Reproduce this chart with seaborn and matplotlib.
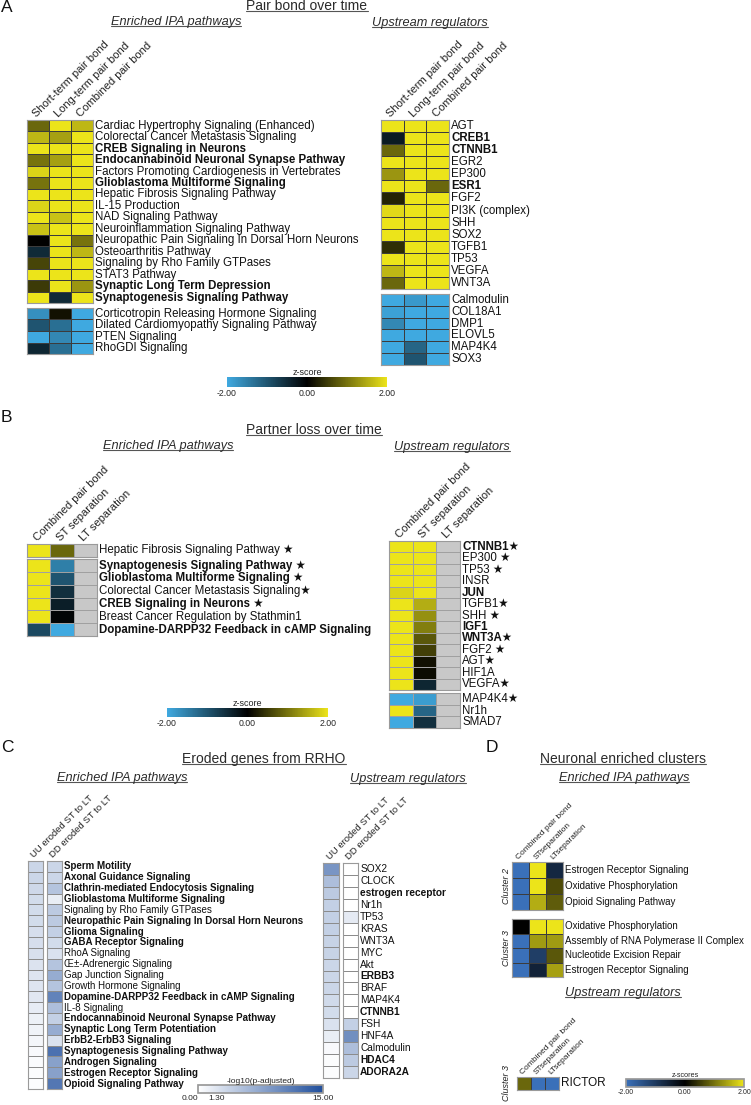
import numpy as np
import matplotlib
matplotlib.use('Agg')
import matplotlib.pyplot as plt
import matplotlib.cm as cm
import seaborn as sns
from matplotlib.colors import LinearSegmentedColormap, ListedColormap, Normalize
from matplotlib.lines import Line2D

nan = np.nan

# ---------------- Panel A: pair bond over time ----------------
pb_cols = ['Short-term pair bond', 'Long-term pair bond', 'Combined pair bond']

a_path_up = ['Cardiac Hypertrophy Signaling (Enhanced)', 'Colorectal Cancer Metastasis Signaling',
             'CREB Signaling in Neurons', 'Endocannabinoid Neuronal Synapse Pathway',
             'Factors Promoting Cardiogenesis in Vertebrates', 'Glioblastoma Multiforme Signaling',
             'Hepatic Fibrosis Signaling Pathway', 'IL-15 Production', 'NAD Signaling Pathway',
             'Neuroinflammation Signaling Pathway', 'Neuropathic Pain Signaling In Dorsal Horn Neurons',
             'Osteoarthritis Pathway', 'Signaling by Rho Family GTPases', 'STAT3 Pathway',
             'Synaptic Long Term Depression', 'Synaptogenesis Signaling Pathway']
a_path_up_z = [[0.9, 2, 1.6], [1.6, 1.4, 2], [2, 2, 2], [1.0, 1.4, 2], [1.85, 2, 2], [1.0, 2, 2],
               [2, 2, 2], [1.85, 2, 2], [2, 1.7, 2], [1.7, 2, 2], [0.0, 2, 1.0], [-0.5, 2, 1.6],
               [0.6, 2, 2], [2, 2, 2], [0.5, 2, 1.3], [2, -0.5, 2]]
a_path_down = ['Corticotropin Releasing Hormone Signaling', 'Dilated Cardiomyopathy Signaling Pathway',
               'PTEN Signaling', 'RhoGDI Signaling']
a_path_down_z = [[-1.7, 0.15, -2], [-1.0, -1.3, -2], [-2, -1.6, -2], [-0.45, -1.3, -2]]
a_path_bold = ['CREB Signaling in Neurons', 'Endocannabinoid Neuronal Synapse Pathway',
               'Glioblastoma Multiforme Signaling', 'Synaptic Long Term Depression',
               'Synaptogenesis Signaling Pathway']

a_up = ['AGT', 'CREB1', 'CTNNB1', 'EGR2', 'EP300', 'ESR1', 'FGF2', 'PI3K (complex)', 'SHH', 'SOX2',
        'TGFB1', 'TP53', 'VEGFA', 'WNT3A']
a_up_z = [[2, 2, 2], [-0.3, 2, 2], [0.9, 2, 2], [2, 2, 2], [1.3, 2, 2], [2, 2, 0.9], [0.3, 2, 2],
          [1.9, 2, 2], [2, 2, 2], [2, 2, 2], [0.4, 2, 2], [2, 2, 2], [1.6, 2, 2], [0.9, 2, 2]]
a_down = ['Calmodulin', 'COL18A1', 'DMP1', 'ELOVL5', 'MAP4K4', 'SOX3']
a_down_z = [[-2, -1.8, -2], [-1.9, -2, -2], [-1.6, -2, -2], [-2, -2, -2], [-2, -1.2, -2], [-2, -1.0, -2]]
a_up_bold = ['CREB1', 'CTNNB1', 'ESR1']

# ---------------- Panel B: partner loss over time ----------------
pl_cols = ['Combined pair bond', 'ST separation', 'LT separation']

b_path_top = ['Hepatic Fibrosis Signaling Pathway ★']
b_path_top_z = [[2, 0.9, nan]]
b_path = ['Synaptogenesis Signaling Pathway ★', 'Glioblastoma Multiforme Signaling ★',
          'Colorectal Cancer Metastasis Signaling★', 'CREB Signaling in Neurons ★',
          'Breast Cancer Regulation by Stathmin1', 'Dopamine-DARPP32 Feedback in cAMP Signaling']
b_path_z = [[2, -1.5, nan], [2, -1.0, nan], [2, -0.55, nan], [2, -0.35, nan], [2, -0.05, nan],
            [-0.85, -2, nan]]
b_path_bold = ['Synaptogenesis Signaling Pathway ★', 'Glioblastoma Multiforme Signaling ★',
               'CREB Signaling in Neurons ★', 'Dopamine-DARPP32 Feedback in cAMP Signaling']

b_up = ['CTNNB1★', 'EP300 ★', 'TP53 ★', 'INSR', 'JUN', 'TGFB1★', 'SHH ★', 'IGF1', 'WNT3A★',
        'FGF2 ★', 'AGT★', 'HIF1A', 'VEGFA★']
b_up_z = [[2, 2, nan], [2, 2, nan], [2, 2, nan], [2, 2, nan], [1.85, 2, nan], [2, 1.5, nan],
          [2, 1.25, nan], [2, 1.1, nan], [2, 0.75, nan], [2, 0.55, nan], [2, 0.15, nan],
          [2, 0.1, nan], [2, -0.45, nan]]
b_down = ['MAP4K4★', 'Nr1h', 'SMAD7']
b_down_z = [[-2, -1.85, nan], [2, -1.2, nan], [-2, -0.55, nan]]
b_up_bold = ['CTNNB1★', 'JUN', 'IGF1', 'WNT3A★']

# ---------------- Panel C: eroded genes from RRHO ----------------
c_cols = ['UU eroded ST to LT', 'DD eroded ST to LT']
c_path = ['Sperm Motility', 'Axonal Guidance Signaling', 'Clathrin-mediated Endocytosis Signaling',
          'Glioblastoma Multiforme Signaling', 'Signaling by Rho Family GTPases',
          'Neuropathic Pain Signaling In Dorsal Horn Neurons', 'Glioma Signaling',
          'GABA Receptor Signaling', 'RhoA Signaling', 'Œ±-Adrenergic Signaling',
          'Gap Junction Signaling', 'Growth Hormone Signaling',
          'Dopamine-DARPP32 Feedback in cAMP Signaling', 'IL-8 Signaling',
          'Endocannabinoid Neuronal Synapse Pathway', 'Synaptic Long Term Potentiation',
          'ErbB2-ErbB3 Signaling', 'Synaptogenesis Signaling Pathway', 'Androgen Signaling',
          'Estrogen Receptor Signaling', 'Opioid Signaling Pathway']
c_path_uu = [3.5, 3.5, 3.3, 3.0, 3.0, 3.0, 2.8, 2.8, 2.6, 2.4, 2.2, 2.2, 2.0, 1.6, 1.2, 1.0, 0.8,
             0.5, 0.4, 0.3, 0.2]
c_path_dd = [3.5, 3.5, 5.0, 1.5, 4.5, 4.5, 4.0, 3.0, 2.5, 5.0, 7.0, 5.0, 10.5, 5.5, 4.0, 7.0, 2.5,
             12.0, 8.0, 8.0, 11.5]
c_path_plain = ['Signaling by Rho Family GTPases', 'RhoA Signaling', 'Œ±-Adrenergic Signaling',
                'Gap Junction Signaling', 'Growth Hormone Signaling', 'IL-8 Signaling']

c_up = ['SOX2', 'CLOCK', 'estrogen receptor', 'Nr1h', 'TP53', 'KRAS', 'WNT3A', 'MYC', 'Akt', 'ERBB3',
        'BRAF', 'MAP4K4', 'CTNNB1', 'FSH', 'HNF4A', 'Calmodulin', 'HDAC4', 'ADORA2A']
c_up_uu = [9.0, 5.5, 4.5, 4.0, 4.0, 4.0, 3.8, 3.8, 3.5, 3.5, 3.5, 3.2, 3.0, 2.5, 1.5, 0.5, 0.3, 0.3]
c_up_dd = [0, 0, 0, 0, 1.8, 0, 0, 0, 0, 0, 0, 0, 0, 4.0, 9.5, 5.5, 4.5, 3.5]
c_up_bold = ['estrogen receptor', 'ERBB3', 'CTNNB1', 'HDAC4', 'ADORA2A']

# ---------------- Panel D: neuronal enriched clusters ----------------
d_cols = ['Combined pair bond', 'STseparation', 'LTseparation']
d_c2 = ['Estrogen Receptor Signaling', 'Oxidative Phosphorylation', 'Opioid Signaling Pathway']
d_c2_z = [[-2, 2, -0.7], [-2, 2, 0.65], [-2, 1.5, 0.8]]
d_c3 = ['Oxidative Phosphorylation', 'Assembly of RNA Polymerase II Complex',
        'Nucleotide Excision Repair', 'Estrogen Receptor Signaling']
d_c3_z = [[0, 2, 2], [-2, 1.35, 1.35], [-2, -1.1, 0.75], [-2, -0.6, 1.4]]
d_up = ['RICTOR']
d_up_z = [[0.9, -2, -2]]

# ---------------- styling ----------------
sns.set_theme(style='white')
plt.rcParams['font.family'] = ['Liberation Sans', 'DejaVu Sans']

zcmap = LinearSegmentedColormap.from_list('z', ['#3fa9e0', '#000000', '#ece41a'])
dcmap = LinearSegmentedColormap.from_list('zd', ['#3a70b9', '#000000', '#ece41a'])
pcmap = LinearSegmentedColormap.from_list('p', ['#ffffff', '#1f4e9c'])
grey = ListedColormap(['#c8c8c8'])

W, H = 751, 1105
fig = plt.figure(figsize=(W / 100, H / 100), dpi=100)


def rect(x, y, w, h):
    return [x / W, 1 - (y + h) / H, w / W, h / H]


def heat(x, y, w, h, z, cmap, vmin, vmax, rows=None, cols=None, bold=(), plain=None,
         fs=8.3, cfs=8, lc='#3c3c3c', frame='#9a9a9a'):
    ax = fig.add_axes(rect(x, y, w, h))
    z = np.array(z, dtype=float)
    sns.heatmap(z, ax=ax, cmap=cmap, vmin=vmin, vmax=vmax, cbar=False, linewidths=0.5,
                linecolor=lc, xticklabels=False, yticklabels=False)
    if np.isnan(z).any():
        # grey fill for missing comparisons
        sns.heatmap(np.zeros_like(z), mask=~np.isnan(z), ax=ax, cmap=grey, cbar=False,
                    linewidths=0.5, linecolor='#a0a0a0', xticklabels=False, yticklabels=False)
    if rows is not None:
        ax.set_yticks(np.arange(len(rows)) + 0.5)
        ax.set_yticklabels(rows, fontsize=fs, rotation=0, va='center')
        ax.yaxis.tick_right()
        ax.tick_params(axis='y', length=0, pad=1.5)
        for tk, lab in zip(ax.yaxis.get_major_ticks(), rows):
            isbold = (lab in bold) if plain is None else (lab not in plain)
            for t in (tk.label1, tk.label2):
                t.set_fontweight('bold' if isbold else 'normal')
                t.set_color('#111111')
    else:
        ax.set_yticks([])
    if cols is not None:
        ax.set_xticks(np.arange(len(cols)) + 0.5)
        ax.set_xticklabels(cols, fontsize=cfs, rotation=45, ha='left', va='bottom',
                           rotation_mode='anchor', color='#222222')
        ax.xaxis.tick_top()
        ax.tick_params(axis='x', length=0, pad=1)
    else:
        ax.set_xticks([])
    for s in ax.spines.values():
        s.set_visible(True)
        s.set_color(frame)
        s.set_linewidth(0.8)
    return ax


def cbar(x, y, w, h, cmap, vmin, vmax, ticks, labels, title, fs, tfs, outline=False):
    cax = fig.add_axes(rect(x, y, w, h))
    sm = cm.ScalarMappable(norm=Normalize(vmin, vmax), cmap=cmap)
    cb = fig.colorbar(sm, cax=cax, orientation='horizontal')
    cb.set_ticks(ticks)
    cb.set_ticklabels(labels, fontsize=fs)
    cax.tick_params(length=0, pad=1.5)
    cb.outline.set_visible(outline)
    cb.outline.set_edgecolor('#999999')
    cax.set_title(title, fontsize=tfs, pad=1.5, color='#222222')
    return cax


underlined = []


def header(x, y, s, size, italic=False):
    t = fig.text(x / W, 1 - y / H, s, fontsize=size, style='italic' if italic else 'normal',
                 ha='center', va='center', color='#2a2a2a')
    underlined.append(t)


def letter(x, y, s):
    fig.text(x / W, 1 - y / H, s, fontsize=12.5, ha='left', va='center', color='#111111')


# ---- A ----
letter(1, 8, 'A')
header(307, 6, 'Pair bond over time', 10)
header(176, 22, 'Enriched IPA pathways', 9.2, italic=True)
header(430, 23, 'Upstream regulators', 9.2, italic=True)
heat(27, 120, 66, 183.3, a_path_up_z, zcmap, -2, 2, rows=a_path_up, cols=pb_cols, bold=a_path_bold)
heat(27, 307.7, 66, 46.6, a_path_down_z, zcmap, -2, 2, rows=a_path_down)
heat(381, 120, 68, 169, a_up_z, zcmap, -2, 2, rows=a_up, cols=pb_cols, bold=a_up_bold)
heat(381, 294, 68, 71, a_down_z, zcmap, -2, 2, rows=a_down)
cbar(227, 377, 160, 10, zcmap, -2, 2, [-2, 0, 2], ['-2.00', '0.00', '2.00'], 'z-score', 6.3, 6.5)

# ---- B ----
letter(1, 417, 'B')
header(314, 430, 'Partner loss over time', 10)
header(168, 446, 'Enriched IPA pathways', 9.2, italic=True)
header(452, 447, 'Upstream regulators', 9.2, italic=True)
heat(27, 544, 70, 12.7, b_path_top_z, zcmap, -2, 2, rows=b_path_top, cols=pl_cols)
heat(27, 559.3, 70, 76.7, b_path_z, zcmap, -2, 2, rows=b_path, bold=b_path_bold)
heat(389, 541, 71, 149, b_up_z, zcmap, -2, 2, rows=b_up, cols=pl_cols, bold=b_up_bold)
heat(389, 693, 71, 35, b_down_z, zcmap, -2, 2, rows=b_down)
cbar(167, 708, 161, 9, zcmap, -2, 2, [-2, 0, 2], ['-2.00', '0.00', '2.00'], 'z-score', 6.3, 6.5)

# ---- C ----
letter(1, 747, 'C')
header(264, 759, 'Eroded genes from RRHO', 10)
header(122, 778, 'Enriched IPA pathways', 9.2, italic=True)
header(408, 779, 'Upstream regulators', 9.2, italic=True)
heat(28, 861, 15, 228, np.array(c_path_uu)[:, None], pcmap, 0, 15, cols=c_cols[:1], cfs=6.8,
     lc='#8c8c8c')
heat(47, 861, 15, 228, np.array(c_path_dd)[:, None], pcmap, 0, 15, rows=c_path, cols=c_cols[1:],
     plain=c_path_plain, fs=7.0, cfs=6.8, lc='#8c8c8c')
heat(323, 863, 16, 215, np.array(c_up_uu)[:, None], pcmap, 0, 15, cols=c_cols[:1], cfs=6.8,
     lc='#8c8c8c')
heat(343, 863, 15, 215, np.array(c_up_dd)[:, None], pcmap, 0, 15, rows=c_up, cols=c_cols[1:],
     bold=c_up_bold, fs=7.3, cfs=6.8, lc='#8c8c8c')
pax = cbar(198, 1085, 125, 8, pcmap, 0, 15, [0, 1.3, 15], ['0.00', '1.30', '15.00'],
           '-log10(p-adjusted)', 6.0, 6.0, outline=True)
# the two low ticks sit close together: push them apart like the original
plabs = pax.get_xticklabels()
plabs[0].set_horizontalalignment('right')
plabs[1].set_horizontalalignment('left')

# ---- D ----
letter(486, 747, 'D')
header(623, 759, 'Neuronal enriched clusters', 10)
header(624, 778, 'Enriched IPA pathways', 9.2, italic=True)
header(623, 993, 'Upstream regulators', 9.2, italic=True)
heat(512, 862, 51, 48, d_c2_z, dcmap, -2, 2, rows=d_c2, cols=d_cols, fs=7.0, cfs=6.0)
heat(512, 919, 51, 58, d_c3_z, dcmap, -2, 2, rows=d_c3, fs=7.0)
heat(517, 1077, 42, 13, d_up_z, dcmap, -2, 2, rows=d_up, cols=d_cols, fs=8.5, cfs=6.0)
for cy, name in [(886, 'Cluster 2'), (948, 'Cluster 3'), (1083, 'Cluster 3')]:
    fig.text(506 / W, 1 - cy / H, name, rotation=90, style='italic', fontsize=6.5,
             ha='center', va='center', color='#222222')
cbar(626, 1079, 118, 8, dcmap, -2, 2, [-2, 0, 2], ['-2.00', '0.00', '2.00'], 'z-scores', 5.0, 5.2,
     outline=True)

# underline the section headers
fig.canvas.draw()
renderer = fig.canvas.get_renderer()
fw, fh = fig.bbox.width, fig.bbox.height
for t in underlined:
    bb = t.get_window_extent(renderer)
    yy = bb.y0 + 0.13 * bb.height
    fig.add_artist(Line2D([bb.x0 / fw, bb.x1 / fw], [yy / fh, yy / fh], transform=fig.transFigure,
                          color='#555555', lw=0.8))

fig.savefig('out.png', dpi=100)
